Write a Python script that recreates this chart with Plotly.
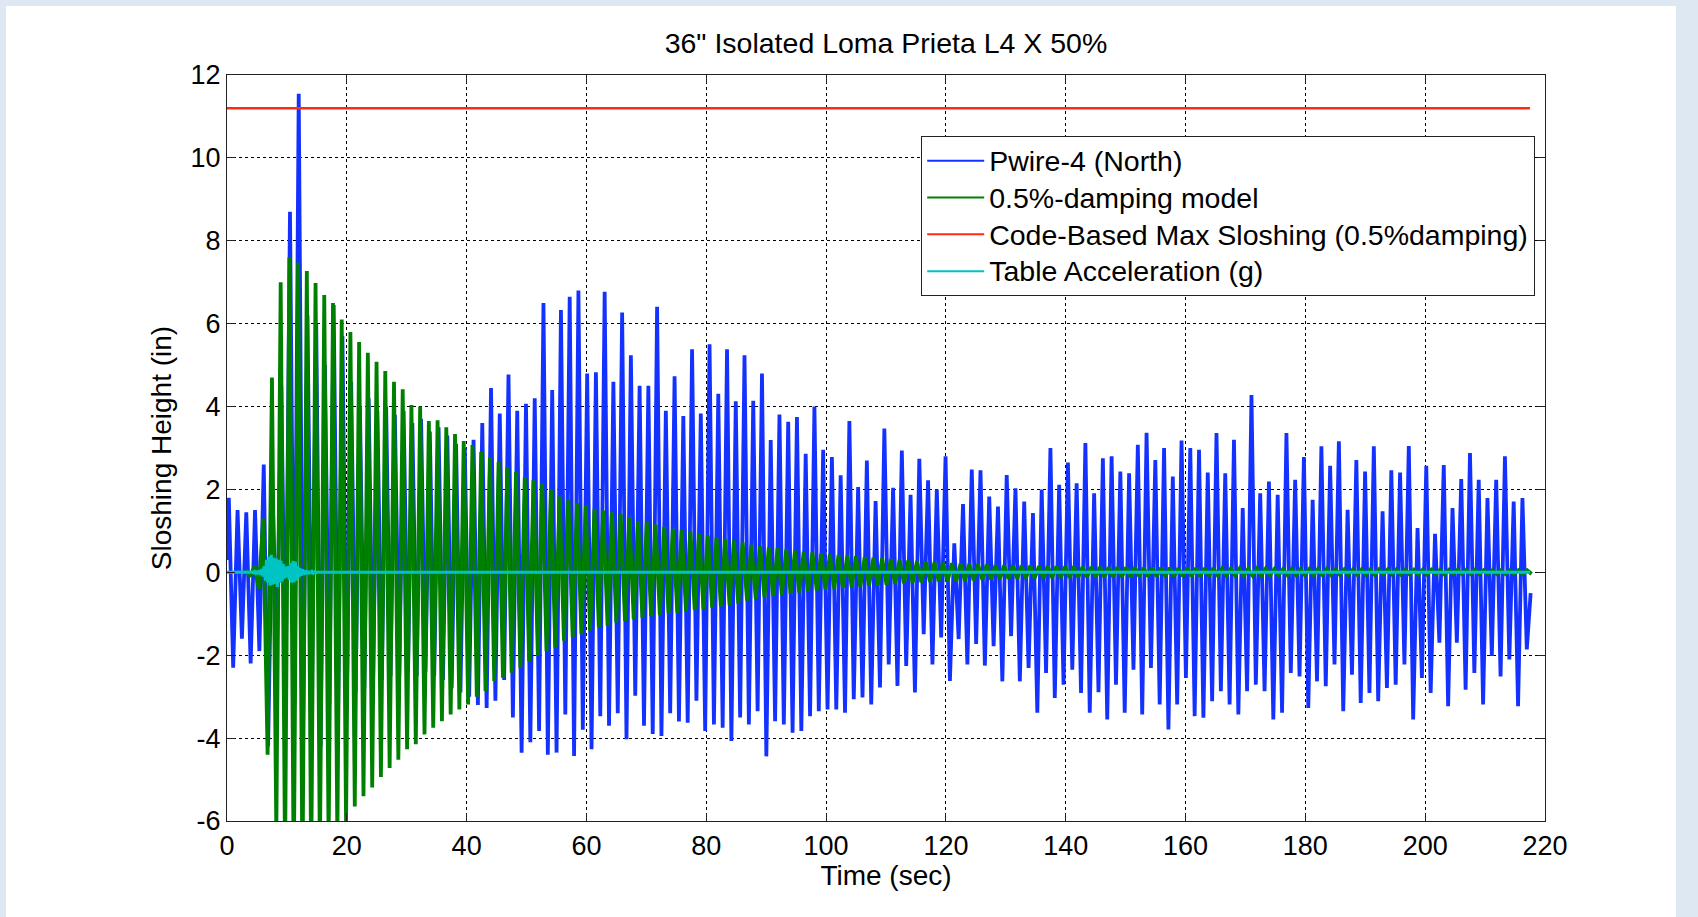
import plotly.graph_objects as go

# ---------------- data ----------------
TITLE = '36" Isolated Loma Prieta L4 X 50%'
X_TICKS = [0, 20, 40, 60, 80, 100, 120, 140, 160, 180, 200, 220]
Y_TICKS = [-6, -4, -2, 0, 2, 4, 6, 8, 10, 12]
Y_TICK_TEXT = ["-6", "-4", "-2", "0", "2", "4", "6", "8", "10", "12"]
SERIES_NAMES = ["Pwire-4 (North)", "0.5%-damping model",
                "Code-Based Max Sloshing (0.5%damping)", "Table Acceleration (g)"]
SERIES_COLORS = ["#1432ff", "#008000", "#ff2a10", "#00c4c4"]

# Pwire-4 (North): successive peak / trough values of each sloshing cycle
BLUE_T0 = 0.3          # time of first peak (s)
BLUE_PERIOD = 1.459    # sloshing period (s)
BLUE_START = 0.3       # value at t = 0
BLUE_END_T = 217.6
BLUE_END = -0.5
blue_max = [
    1.8, 1.5, 1.45, 1.5, 2.6, 2.0, 4.5, 8.7, 11.55, 6.2, 6.0, 5.0, 6.45, 5.7,
    4.6, 4.0, 4.2, 3.9, 4.0, 3.8, 3.9, 3.6, 3.7, 3.4, 3.5, 3.3, 3.1, 3.0, 3.2, 3.6,
    4.45, 3.83, 4.77, 3.9, 4.07, 4.2, 6.5, 4.4, 6.33, 6.65, 6.8, 4.8, 4.83, 6.77, 4.6,
    6.27, 5.24, 4.5, 4.5, 6.41, 3.9, 4.73, 3.77, 5.38, 3.83, 5.5, 4.31, 5.38, 4.13,
    5.24, 4.14, 4.8, 3.19, 3.81, 3.63, 3.75, 2.86, 4.0, 2.96, 2.78, 2.34, 3.65, 2.06,
    2.7, 1.72, 3.47, 2.04, 2.94, 1.87, 2.74, 2.22, 2.0, 2.8, 0.7, 1.65, 2.48, 2.46, 1.83,
    1.59, 2.35, 2.03, 1.71, 1.43, 2.0, 3.0, 2.11, 2.65, 2.15, 3.12, 1.91, 2.75, 2.8,
    2.43, 2.39, 3.08, 3.37, 2.71, 3.0, 2.31, 3.18, 3.0, 2.96, 2.41, 3.36, 2.39, 3.2,
    1.55, 4.28, 1.91, 2.19,
    1.87, 3.36, 2.23, 2.78, 1.75, 3.04, 2.57, 3.16, 1.51, 2.71, 2.43, 3.04, 1.47, 2.46,
    2.41, 3.05, 1.07, 2.57, 0.93, 2.59, 1.55, 2.25, 2.88, 2.23, 1.79, 2.23, 2.8, 1.71, 1.79,
]
blue_min = [
    -2.3, -1.6, -2.2, -1.9, -4.2, -2.0, -2.8, -3.27, -3.6, -3.0, -4.2, -3.2, -3.4, -3.1,
    -2.9, -2.8, -2.7, -2.6, -2.5, -2.5, -2.4, -2.5, -2.4, -2.5, -2.6, -2.8, -2.9, -3.0, -3.2, -3.27,
    -3.1, -2.6, -3.5, -4.35, -4.1, -3.83, -4.4, -4.35, -3.43, -4.43, -3.8, -4.27, -3.47,
    -3.7, -3.4, -4.03, -2.98, -3.7, -3.9, -3.95, -3.4, -3.6, -3.63, -3.1, -3.83, -3.67,
    -3.75, -4.07, -3.5,
    -3.67, -3.35, -4.44, -3.59, -3.67, -3.87, -3.83, -3.47, -3.35, -3.31, -3.31, -3.39,
    -3.06, -3.02, -3.19, -2.78, -2.22, -2.74, -2.26, -2.9, -1.49, -2.22, -1.57, -2.62,
    -1.61, -2.22, -1.73, -2.25,
    -1.78, -2.63, -1.54, -2.63, -2.31, -3.39, -2.43, -3.03, -2.71, -2.35, -2.91, -3.39,
    -2.89, -3.55, -2.71, -3.39, -2.35, -3.43, -2.31, -3.19, -3.79, -3.19, -2.55, -3.47,
    -3.51, -3.11, -2.87, -3.19, -3.43, -2.87, -2.71, -2.87,
    -3.55, -3.39, -2.43, -2.51, -3.27, -2.63, -2.75, -2.22, -3.35, -2.47, -3.15, -2.91,
    -3.11, -2.79, -2.71, -2.22, -3.55, -2.55, -2.91, -1.7, -3.23, -1.7, -2.83, -2.43,
    -3.19, -2.02, -2.51, -2.1, -3.23, -1.86,
]

# 0.5%-damping model: peak / trough per cycle
GREEN_T0 = 3.14
GREEN_PERIOD = 1.455
green_max = [
    0.05, 0.15,
    1.3, 4.7, 7.0, 7.6, 7.47, 7.27, 6.98, 6.69, 6.5, 6.1, 5.8, 5.56, 5.3, 5.08, 4.86,
    4.6, 4.42, 4.04, 4.0, 3.65, 3.67, 3.5, 3.34, 3.17, 3.07, 2.9,
    2.78, 2.66, 2.54, 2.42, 2.3, 2.22, 2.14, 2.0, 1.83, 1.77, 1.67, 1.61, 1.53, 1.49,
    1.45, 1.41, 1.33, 1.23, 1.21, 1.15, 1.1, 1.05, 1.02, 1.0, 0.94, 0.89, 0.85, 0.81, 0.77,
    0.72, 0.66, 0.63, 0.6, 0.58, 0.55, 0.52, 0.5, 0.48, 0.45, 0.43, 0.42, 0.4, 0.39,
    0.37, 0.35, 0.34, 0.32, 0.3, 0.29, 0.27, 0.26, 0.24, 0.23, 0.22, 0.21, 0.2, 0.19, 0.18,
    0.17, 0.17, 0.16, 0.16, 0.16, 0.15, 0.15, 0.14, 0.14, 0.14,
    0.13, 0.13, 0.13, 0.12, 0.12, 0.12, 0.12, 0.11, 0.11, 0.11,
    0.11, 0.10, 0.10, 0.10, 0.10, 0.10, 0.09, 0.09, 0.09, 0.09,
    0.09, 0.09, 0.08, 0.08, 0.08, 0.08, 0.08, 0.08, 0.08, 0.07,
    0.07, 0.07, 0.07, 0.07, 0.07, 0.07, 0.07, 0.06, 0.06, 0.06,
    0.06, 0.06, 0.06, 0.06, 0.06, 0.06, 0.05, 0.05, 0.05, 0.05,
    0.05, 0.05,
]
green_min = [
    -0.1, -0.4,
    -4.4, -6.3, -7.0, -7.5, -7.4, -7.2, -6.9, -6.6, -6.4, -6.05, -5.65, -5.4, -5.19,
    -4.94, -4.72, -4.52, -4.27, -4.15, -3.91, -3.75, -3.59, -3.43, -3.31, -3.19, -3.0, -2.86,
    -2.62, -2.54, -2.42, -2.3, -2.14, -2.0, -1.9, -1.81, -1.65, -1.57, -1.49, -1.41,
    -1.33, -1.29, -1.21,
    -1.17, -1.13, -1.1, -1.06, -1.03, -1.0, -0.97, -0.94, -0.91, -0.88, -0.85, -0.82,
    -0.79, -0.76,
    -0.68, -0.64, -0.6, -0.57, -0.55, -0.52, -0.49, -0.46, -0.44, -0.42, -0.39, -0.37,
    -0.36, -0.34, -0.33, -0.32, -0.3, -0.28, -0.26, -0.25, -0.24, -0.23, -0.22, -0.22,
    -0.21, -0.2, -0.19, -0.18, -0.17,
    -0.16, -0.15, -0.15, -0.14, -0.14, -0.14, -0.13, -0.13, -0.13, -0.12,
    -0.12, -0.12, -0.11, -0.11, -0.11, -0.11, -0.10, -0.10, -0.10, -0.10,
    -0.09, -0.09, -0.09, -0.09, -0.09, -0.08, -0.08, -0.08, -0.08, -0.08,
    -0.08, -0.07, -0.07, -0.07, -0.07, -0.07, -0.07, -0.06, -0.06, -0.06,
    -0.06, -0.06, -0.06, -0.06, -0.05, -0.05, -0.05, -0.05, -0.05, -0.05,
    -0.05, -0.05, -0.04, -0.04, -0.04, -0.04, -0.04, -0.04, -0.04, -0.04,
    -0.04, -0.04,
]

# Code-based maximum sloshing height (in)
CODE_MAX = 11.2
CODE_T = [0.0, 217.5]

# Table acceleration (g): samples during the strong-motion burst
ACC_T0 = 4.0
ACC_DT = 0.2
ACC_END_T = 217.5
table_acc = [
    0.0, 0.01, -0.01, 0.02, -0.02, 0.03,
    -0.04, 0.05, -0.06, 0.08, -0.1,
    0.15, -0.2, 0.3, -0.25, 0.38,
    -0.32, 0.42, -0.3, 0.35, -0.28,
    0.33, -0.35, 0.3, -0.25, 0.28,
    -0.22, 0.2, -0.15, 0.14, -0.12,
    0.15, -0.18, 0.22, -0.25, 0.28,
    -0.24, 0.26, -0.2, 0.15, -0.12,
    0.1, -0.08, 0.07, -0.06, 0.05,
    -0.05, 0.04, -0.04, 0.03, -0.03,
    0.02, -0.02, 0.01, -0.01, 0.0,
]


def cycles(t0, period, tops, bottoms):
    xs, ys = [], []
    for i, (hi, lo) in enumerate(zip(tops, bottoms)):
        xs += [t0 + i * period, t0 + (i + 0.5) * period]
        ys += [hi, lo]
    return xs, ys


bx, by = cycles(BLUE_T0, BLUE_PERIOD, blue_max, blue_min)
bx = [0.0] + bx + [BLUE_END_T]
by = [BLUE_START] + by + [BLUE_END]

gx, gy = cycles(GREEN_T0, GREEN_PERIOD, green_max, green_min)

ax = [0.0] + [ACC_T0 + j * ACC_DT for j in range(len(table_acc))] + [ACC_END_T]
ay = [0.0] + table_acc + [0.0]

FONT = "Liberation Sans, Arial, sans-serif"
DATA_WIDTHS = [3.8, 3.8, 2.5, 3.0]
series = [(bx, by), (gx, gy), (CODE_T, [CODE_MAX, CODE_MAX]), (ax, ay)]

fig = go.Figure()
for name, color, w, (xs, ys) in zip(SERIES_NAMES, SERIES_COLORS, DATA_WIDTHS, series):
    fig.add_trace(go.Scatter(x=xs, y=ys, mode="lines", name=name, legendgroup=name,
                             showlegend=False, line=dict(color=color, width=w)))
# legend entries (thin sample lines, as in the original legend)
for name, color in zip(SERIES_NAMES, SERIES_COLORS):
    fig.add_trace(go.Scatter(x=[None], y=[None], mode="lines", legendgroup=name,
                             name='<span style="font-size:28.5px">' + name + "</span>",
                             line=dict(color=color, width=2)))

axis_common = dict(
    showline=True, linecolor="#222222", linewidth=1.2, mirror="ticks",
    ticks="inside", ticklen=8, tickcolor="#222222", tickwidth=1.2,
    showgrid=True, gridcolor="#000000", gridwidth=1, griddash="3px,3px",
    zeroline=False, tickfont=dict(family=FONT, size=27, color="#000000"),
)

fig.update_layout(
    width=1698, height=917,
    margin=dict(l=227, r=153, t=75, b=96),
    paper_bgcolor="#dde8f3", plot_bgcolor="#ffffff",
    font=dict(family=FONT, size=28, color="#000000"),
    title=dict(text=TITLE, x=0.5, xref="paper", xanchor="center",
               y=1 - 43 / 917, yanchor="middle",
               font=dict(family=FONT, size=28.5, color="#000000")),
    xaxis=dict(range=[0, 220], tickvals=X_TICKS,
               title=dict(text="Time (sec)", standoff=4,
                          font=dict(family=FONT, size=28)),
               **axis_common),
    yaxis=dict(range=[-6, 12], tickvals=Y_TICKS, ticktext=Y_TICK_TEXT,
               title=dict(text="Sloshing Height (in)", standoff=10,
                          font=dict(family=FONT, size=28)),
               **axis_common),
    legend=dict(x=0.9924, y=0.918, xanchor="right", yanchor="top",
                bgcolor="#ffffff", bordercolor="#222222", borderwidth=1.2,
                font=dict(family=FONT, size=26, color="#000000"),
                tracegroupgap=0, itemwidth=57, itemclick=False,
                itemdoubleclick=False),
    showlegend=True,
    shapes=[dict(type="rect", xref="paper", yref="paper",
                 x0=(6 - 227) / 1318, x1=(1676 - 227) / 1318,
                 y0=(821 - 930) / 746, y1=(821 - 6) / 746,
                 fillcolor="#ffffff", line=dict(width=0), layer="below")],
)

fig.write_html("out.html")
